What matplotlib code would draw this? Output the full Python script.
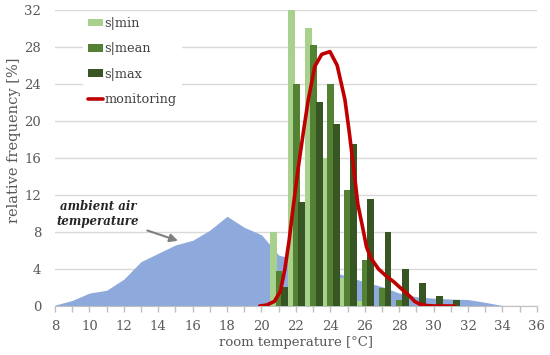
import matplotlib.pyplot as plt
import numpy as np

# bar categories (room temperature, °C) and relative frequencies [%]
temps = [21, 22, 23, 24, 25, 26, 27, 28, 29, 30, 31]
s_min = [8.0, 32.0, 30.0, 16.0, 3.0, 0.5, 0.0, 0.0, 0.0, 0.0, 0.0]
s_mean = [3.8, 24.0, 28.2, 24.0, 12.5, 5.0, 2.0, 0.65, 0.0, 0.0, 0.0]
s_max = [2.1, 11.2, 22.0, 19.7, 17.5, 11.6, 8.0, 4.0, 2.5, 1.05, 0.7]

# ambient air temperature distribution
amb_t = [8, 9, 10, 11, 12, 13, 14, 15, 16, 17, 18, 19, 20, 21, 22, 23, 24, 25,
         26, 27, 28, 29, 30, 31, 32, 33, 34, 35, 36]
amb_f = [0.1, 0.6, 1.4, 1.7, 2.9, 4.8, 5.7, 6.6, 7.1, 8.2, 9.7, 8.5, 7.7, 5.5,
         5.0, 4.5, 3.8, 3.2, 2.6, 2.1, 1.4, 1.0, 0.85, 0.75, 0.7, 0.4, 0.05, 0.0, 0.0]

# monitoring curve
mon_t = [19.9, 20.3, 20.75, 21.1, 21.35, 21.6, 21.85, 22.14, 22.45, 22.72, 23.1,
         23.5, 23.98, 24.4, 24.85, 25.1, 25.35, 25.6, 25.9, 26.1, 26.35, 26.8,
         27.27, 27.7, 28.05, 28.35, 28.65, 28.9, 29.2, 29.6, 30.0, 31.2]
mon_f = [0.0, 0.1, 0.5, 1.6, 3.9, 7.0, 10.8, 15.0, 19.0, 22.3, 25.9,
         27.2, 27.5, 26.0, 22.3, 18.8, 15.0, 11.0, 8.3, 6.4, 5.2, 4.0,
         3.2, 2.6, 2.0, 1.5, 1.0, 0.5, 0.2, 0.05, 0.0, 0.0]

plt.rcParams['font.family'] = 'DejaVu Serif'
gray = '#595959'

fig = plt.figure(figsize=(5.5, 3.55), dpi=100)
ax = fig.add_axes([0.1, 0.138, 0.876, 0.834])

ax.fill_between(amb_t, amb_f, color='#8EA9DB', lw=0, zorder=1)

t = np.array(temps)
w = 0.4
b1 = ax.bar(t - 0.28, s_min, w, color='#A9D18E', label='s|min', zorder=2)
b2 = ax.bar(t + 0.02, s_mean, w, color='#548235', label='s|mean', zorder=3)
b3 = ax.bar(t + 0.35, s_max, w, color='#375623', label='s|max', zorder=4)
ln, = ax.plot(mon_t, mon_f, color='#C00000', lw=2.6, label='monitoring',
              zorder=5, solid_capstyle='round', solid_joinstyle='round')

ax.set_xlim(8, 36)
ax.set_ylim(0, 32)
ax.set_xticks(range(8, 37))
ax.set_xticklabels([str(v) if v % 2 == 0 else '' for v in range(8, 37)])
ax.set_yticks(range(0, 33, 4))
ax.tick_params(axis='x', colors='#BFBFBF', labelcolor=gray, labelsize=9.5,
               length=4, width=1, pad=6)
ax.tick_params(axis='y', length=0, labelcolor=gray, labelsize=9.5, pad=10)
ax.set_axisbelow(True)
ax.grid(axis='y', color='#D9D9D9', lw=1)
for s in ['top', 'right', 'left']:
    ax.spines[s].set_visible(False)
ax.spines['bottom'].set_color('#BFBFBF')

ax.set_xlabel('room temperature [°C]', color=gray, fontsize=9.5)
ax.set_ylabel('relative frequency [%]', color=gray, fontsize=10.5)
ax.yaxis.set_label_coords(-0.07, 0.56)
ax.xaxis.set_label_coords(0.5, -0.102)

leg = ax.legend(handles=[b1, b2, b3, ln], loc='upper left',
                bbox_to_anchor=(0.058, 0.993), borderaxespad=0,
                borderpad=0.4, handlelength=1.15, handleheight=0.5,
                handletextpad=0.1, labelspacing=0.95, fontsize=9.3,
                facecolor='white', edgecolor='none', framealpha=1, fancybox=False)
for txt in leg.get_texts():
    txt.set_color('#404040')

ax.annotate('ambient air\ntemperature', xy=(15.15, 7.05), xytext=(10.5, 9.95),
            ha='center', va='center', fontsize=8.5, fontweight='bold',
            fontstyle='italic', color='#262626', linespacing=1.25,
            arrowprops=dict(arrowstyle='-|>', color='#808080', lw=1.5,
                            mutation_scale=12, shrinkA=4, shrinkB=0))

fig.savefig('out.png', dpi=100)
